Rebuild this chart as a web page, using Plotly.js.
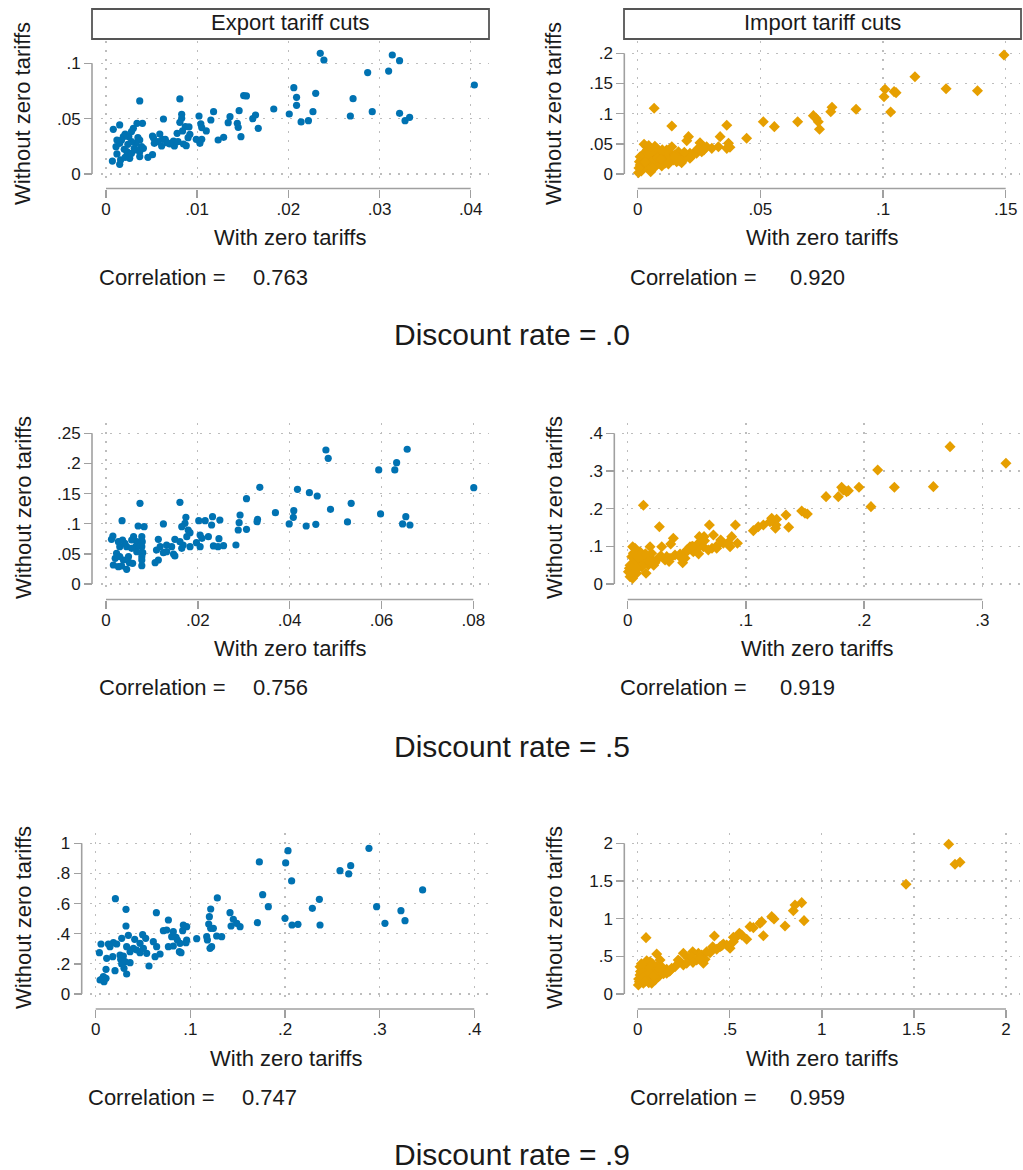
<!DOCTYPE html>
<html>
<head>
<meta charset="utf-8">
<script src="https://cdn.plot.ly/plotly-3.0.1.min.js"></script>
<style>
  html, body { margin: 0; padding: 0; background: #ffffff; }
  #chart { width: 1023px; height: 1170px; }
</style>
</head>
<body>
<div id="chart"></div>
<script>
// ---- Series: welfare effects with vs. without zero tariffs ----
// Export tariff cuts, discount rate .0
const exportR0X = [0.0235,0.0239,0.0287,0.0310,0.0314,0.0322,0.0404,0.0271,0.0230,0.0206,
  0.0209,0.0209,0.0227,0.0201,0.0268,0.0292,0.0322,0.0328,0.0333,0.0214,
  0.0222,0.0184,0.0151,0.0154,0.0146,0.0136,0.0134,0.0144,0.0145,0.0148,
  0.0118,0.0115,0.0110,0.0104,0.0105,0.0102,0.0129,0.0123,0.0161,0.0164,
  0.0167,0.0081,0.0083,0.0083,0.0081,0.0087,0.0091,0.0084,0.0078,0.0092,
  0.0090,0.0085,0.0088,0.0099,0.0103,0.0105,0.0074,0.0075,0.0070,0.0063,
  0.0059,0.0062,0.0057,0.0061,0.0052,0.0051,0.0053,0.0051,0.0046,0.0037,
  0.0040,0.0034,0.0030,0.0028,0.0035,0.0037,0.0033,0.0039,0.0037,0.0037,
  0.0031,0.0028,0.0025,0.0024,0.0026,0.0021,0.0019,0.0017,0.0015,0.0015,
  0.0012,0.0011,0.0008,0.0007,0.0012,0.0016,0.0015,0.0021,0.0020,0.0023,
  0.0028,0.0034,0.0041,0.0065,0.0067,0.0079];
const exportR0Y = [0.109,0.103,0.0916,0.093,0.1075,0.1024,0.0804,0.068,0.0729,0.078,
  0.0693,0.062,0.0563,0.0542,0.0524,0.0563,0.0548,0.0482,0.0512,0.047,
  0.0482,0.0587,0.0708,0.0705,0.0572,0.0518,0.0464,0.0458,0.0422,0.0337,
  0.0563,0.0488,0.0389,0.0452,0.0419,0.0524,0.0331,0.0307,0.05,0.0533,
  0.0413,0.0678,0.0539,0.0503,0.0467,0.0428,0.0425,0.0389,0.0367,0.0358,
  0.0328,0.0271,0.0256,0.0313,0.0277,0.0313,0.0298,0.0253,0.0271,0.0497,
  0.0361,0.0313,0.0292,0.0253,0.0328,0.0343,0.0277,0.0175,0.0151,0.066,
  0.0458,0.0458,0.0413,0.0383,0.0328,0.0307,0.0277,0.0247,0.0202,0.0157,
  0.0232,0.0292,0.0337,0.0268,0.0142,0.0361,0.0337,0.0307,0.0277,0.0443,
  0.0307,0.0247,0.0404,0.0117,0.0181,0.0127,0.0087,0.0151,0.0223,0.0202,
  0.0187,0.0217,0.0232,0.0313,0.0283,0.0292];

// Import tariff cuts, discount rate .0
const importR0X = [0.1493,0.113,0.1257,0.1385,0.1008,0.1004,0.1045,0.1053,0.1031,0.089,
  0.0792,0.0787,0.0716,0.0727,0.0736,0.0741,0.0652,0.0557,0.0512,0.0444,
  0.0363,0.0067,0.0139,0.0207,0.0200,0.0336,0.0329,0.0370,0.0376,0.0363,
  0.0254,0.0268,0.0247,0.0227,0.0200,0.0173,0.0166,0.0139,0.0132,0.0118,
  0.0145,0.0105,0.0091,0.0084,0.0064,0.0057,0.0050,0.0026,0.0037,0.0077,
  0.0043,0.0023,0.0016,0.0010,0.0003,0.0020,0.0037,0.0053,0.0071,0.0111,
  0.0179,0.0213,0.0240,0.0281,0.0037,0.0050,0.0071,0.0118,0.0152,0.0186,
  0.0213,0.0261,0.0302,0.0010,0.0007,0.0023,0.0057,0.0098,0.0125,0.0159,
  0.0015,0.0030,0.0060,0.0080,0.0100,0.0040,0.0150,0.0190,0.0220,0.0170,
  0.0120,0.0005,0.0045,0.0070,0.0270,0.0095];
const importR0Y = [0.1972,0.161,0.1414,0.138,0.1403,0.128,0.1365,0.1348,0.1028,0.1072,
  0.1105,0.1033,0.0967,0.0923,0.0867,0.074,0.0867,0.0785,0.0867,0.0591,
  0.0807,0.1088,0.0796,0.0619,0.0552,0.0619,0.0453,0.0508,0.0442,0.0425,
  0.0519,0.0453,0.0425,0.0343,0.0287,0.0315,0.037,0.0453,0.0354,0.0287,
  0.0232,0.0232,0.0343,0.0177,0.0287,0.037,0.0425,0.0492,0.0453,0.0425,
  0.026,0.0331,0.0243,0.0149,0.0022,0.0094,0.0122,0.0039,0.0122,0.0177,
  0.0188,0.026,0.0343,0.0453,0.0315,0.0354,0.0387,0.0398,0.0315,0.0243,
  0.0343,0.037,0.0425,0.0287,0.0204,0.0177,0.0204,0.0133,0.0166,0.0204,
  0.005,0.02,0.01,0.027,0.04,0.04,0.027,0.036,0.03,0.022,
  0.02,0.01,0.047,0.046,0.04,0.025];

// Export tariff cuts, discount rate .5
const exportR5X = [0.0479,0.0484,0.0656,0.0633,0.0629,0.0594,0.0801,0.0335,0.0417,0.0443,
  0.0460,0.0306,0.0161,0.0074,0.0534,0.0489,0.0369,0.0409,0.0408,0.0598,
  0.0653,0.0646,0.0662,0.0526,0.0457,0.0436,0.0399,0.0330,0.0329,0.0292,
  0.0290,0.0288,0.0306,0.0283,0.0248,0.0232,0.0230,0.0216,0.0202,0.0174,
  0.0172,0.0165,0.0179,0.0183,0.0176,0.0205,0.0209,0.0223,0.0246,0.0234,
  0.0244,0.0256,0.0197,0.0205,0.0183,0.0168,0.0165,0.0161,0.0150,0.0143,
  0.0132,0.0125,0.0114,0.0118,0.0110,0.0125,0.0132,0.0147,0.0150,0.0114,
  0.0107,0.0083,0.0070,0.0078,0.0079,0.0078,0.0080,0.0078,0.0078,0.0078,
  0.0067,0.0060,0.0056,0.0065,0.0067,0.0056,0.0058,0.0051,0.0045,0.0041,
  0.0036,0.0035,0.0030,0.0027,0.0023,0.0020,0.0016,0.0015,0.0012,0.0027,
  0.0034,0.0045,0.0038,0.0049,0.0030];
const exportR5Y = [0.2223,0.2085,0.2235,0.2013,0.1892,0.1892,0.1598,0.1604,0.1571,0.1515,
  0.146,0.1416,0.1355,0.1338,0.1338,0.1239,0.1184,0.1217,0.1106,0.1162,
  0.1117,0.0996,0.0979,0.1029,0.099,0.0962,0.0996,0.1073,0.1034,0.1145,
  0.1018,0.0896,0.0907,0.0647,0.1062,0.1117,0.0979,0.1051,0.1051,0.1106,
  0.1007,0.0951,0.0896,0.0852,0.0785,0.0813,0.0758,0.0785,0.0752,0.0631,
  0.0619,0.0636,0.0686,0.0619,0.0619,0.0647,0.0592,0.0702,0.0741,0.0619,
  0.0647,0.0996,0.0741,0.0619,0.0564,0.052,0.0536,0.0498,0.0465,0.0398,
  0.0354,0.0951,0.0962,0.0785,0.0702,0.0619,0.052,0.0454,0.0398,0.0304,
  0.0702,0.0785,0.073,0.0619,0.0536,0.0592,0.0343,0.0354,0.0619,0.0675,
  0.073,0.1051,0.0619,0.0702,0.0509,0.0426,0.0315,0.0796,0.0741,0.0288,
  0.0299,0.0243,0.0398,0.0454,0.0454];

// Import tariff cuts, discount rate .5
const importR5X = [0.2727,0.3200,0.2115,0.2586,0.2256,0.1957,0.1810,0.1824,0.1852,0.1867,
  0.1782,0.1678,0.2058,0.1472,0.1500,0.1520,0.1339,0.1362,0.1255,0.1250,
  0.1218,0.1260,0.1204,0.1148,0.1105,0.1063,0.0133,0.0268,0.0691,0.0911,
  0.0880,0.0928,0.0866,0.0809,0.0787,0.0725,0.0646,0.0606,0.0598,0.0640,
  0.0713,0.0682,0.0584,0.0555,0.0527,0.0499,0.0465,0.0485,0.0386,0.0364,
  0.0400,0.0358,0.0316,0.0288,0.0259,0.0217,0.0189,0.0175,0.0133,0.0155,
  0.0104,0.0042,0.0062,0.0034,0.0048,0.0014,0.0020,0.0042,0.0076,0.0006,
  0.0082,0.0118,0.0203,0.0330,0.0443,0.0753,0.0541,0.0048,0.0175,0.0231,
  0.0030,0.0060,0.0090,0.0120,0.0150,0.0220,0.0280,0.0350,0.0450,0.0500,
  0.0600,0.0650,0.0750,0.0850,0.0020,0.0080,0.0180,0.0550];
const importR5Y = [0.3646,0.3204,0.3027,0.2584,0.2566,0.2566,0.2566,0.2496,0.2451,0.2478,
  0.2319,0.2319,0.2053,0.1938,0.1876,0.1858,0.1832,0.1504,0.1566,0.1478,
  0.1743,0.1717,0.1655,0.1566,0.1522,0.1416,0.2088,0.1522,0.1566,0.1566,
  0.1257,0.108,0.0991,0.108,0.1168,0.1301,0.1257,0.1257,0.108,0.0991,
  0.0947,0.0903,0.092,0.0858,0.0991,0.0858,0.0566,0.0681,0.1212,0.1062,
  0.077,0.0681,0.0637,0.0991,0.0681,0.0619,0.0991,0.0504,0.0726,0.0283,
  0.0858,0.0991,0.0947,0.0726,0.0549,0.0416,0.0195,0.015,0.0283,0.0327,
  0.0637,0.0549,0.0814,0.0726,0.0796,0.0947,0.0991,0.0814,0.0681,0.0566,
  0.03,0.06,0.07,0.045,0.08,0.05,0.075,0.06,0.07,0.09,
  0.08,0.115,0.1,0.11,0.05,0.04,0.06,0.1];

// Export tariff cuts, discount rate .9
const exportR9X = [0.2887,0.2032,0.1729,0.2007,0.2694,0.2581,0.2673,0.2070,0.3454,0.1764,
  0.2363,0.1285,0.0208,0.1824,0.2968,0.2289,0.3225,0.3268,0.3056,0.2370,
  0.2074,0.2137,0.2000,0.1708,0.0320,0.0641,0.1215,0.1201,0.1419,0.1454,
  0.1490,0.1525,0.1430,0.0768,0.0926,0.0961,0.0919,0.1067,0.1173,0.1194,
  0.1215,0.1243,0.1278,0.1331,0.1180,0.1225,0.1208,0.0320,0.0345,0.0412,
  0.0496,0.0528,0.0609,0.0644,0.0715,0.0750,0.0820,0.0803,0.0849,0.0863,
  0.0768,0.0820,0.0891,0.0961,0.0954,0.0884,0.0901,0.0680,0.0627,0.0563,
  0.0539,0.0504,0.0468,0.0398,0.0363,0.0327,0.0275,0.0222,0.0187,0.0151,
  0.0134,0.0056,0.0039,0.0116,0.0180,0.0204,0.0109,0.0257,0.0264,0.0292,
  0.0310,0.0327,0.0363,0.0299,0.0275,0.0063,0.0088,0.0081,0.0109,0.0046,
  0.0433,0.0468];
const exportR9Y = [0.9668,0.9513,0.8761,0.8695,0.8518,0.8186,0.7965,0.75,0.6903,0.6593,
  0.6283,0.6372,0.6327,0.5796,0.5796,0.5686,0.5531,0.4867,0.469,0.458,
  0.458,0.4624,0.5022,0.4735,0.5619,0.5398,0.5642,0.5133,0.5398,0.4956,
  0.469,0.4469,0.4513,0.4912,0.458,0.4469,0.4204,0.3673,0.3805,0.4646,
  0.4358,0.4358,0.385,0.3805,0.3584,0.3142,0.3031,0.4513,0.3894,0.3628,
  0.3938,0.3695,0.3473,0.3142,0.4204,0.4248,0.4137,0.3805,0.3761,0.3584,
  0.3142,0.3186,0.3363,0.3584,0.3407,0.281,0.2743,0.2655,0.2478,0.1858,
  0.2699,0.3031,0.2743,0.3031,0.281,0.3142,0.3695,0.3319,0.3407,0.3142,
  0.3319,0.3319,0.2743,0.2367,0.2478,0.1549,0.1637,0.2588,0.2301,0.2522,
  0.2146,0.1327,0.208,0.1704,0.1991,0.0973,0.0819,0.115,0.104,0.0929,
  0.292,0.3363];

// Import tariff cuts, discount rate .9
const importR9X = [1.6887,1.7231,1.7502,1.4570,0.8905,0.8543,0.8452,0.9032,0.8000,0.7276,
  0.7403,0.6824,0.6643,0.6733,0.6281,0.6100,0.5919,0.5520,0.5285,0.5195,
  0.5014,0.4652,0.4471,0.4163,0.4072,0.4290,0.3928,0.3656,0.3475,0.3294,
  0.3566,0.3204,0.2986,0.2751,0.2480,0.2480,0.2299,0.2027,0.1756,0.1575,
  0.1394,0.1213,0.1032,0.1213,0.1303,0.0851,0.0670,0.0489,0.0452,0.0308,
  0.0127,0.0217,0.0090,0.0036,0.0308,0.0579,0.0760,0.0941,0.1122,0.1575,
  0.1846,0.0489,0.0814,0.1032,0.0217,0.0398,0.0670,0.0127,0.2661,0.2932,
  0.3747,0.4833,0.5195,0.5647,0.4561,
  0.005,0.015,0.030,0.060,0.090,0.110,0.140,0.170,0.020,0.080,
  0.120,0.060,0.040,0.220,0.300,0.340];
const importR9Y = [1.9867,1.7212,1.7478,1.4558,1.2124,1.1814,1.1062,0.9735,0.9027,1.0265,
  0.9956,0.7743,0.938,0.9602,0.8805,0.8938,0.7257,0.8053,0.7389,0.7522,
  0.6062,0.6637,0.6283,0.7699,0.6283,0.5929,0.5487,0.4602,0.5177,0.5398,
  0.4071,0.4513,0.5619,0.4735,0.5398,0.385,0.4292,0.3628,0.3097,0.3274,
  0.3186,0.2522,0.531,0.4513,0.3628,0.3628,0.4292,0.4425,0.7478,0.385,
  0.3628,0.2743,0.1637,0.1195,0.1416,0.1947,0.1416,0.1858,0.2301,0.2743,
  0.3407,0.2522,0.2743,0.3628,0.208,0.3186,0.3407,0.2522,0.4071,0.4956,
  0.5619,0.6504,0.6947,0.7832,0.6416,
  0.2,0.3,0.22,0.28,0.24,0.31,0.27,0.3,0.4,0.4,
  0.34,0.15,0.17,0.45,0.42,0.47];

// ---- Axis ticks and labels ----
const xTicks = [[0,0.01,0.02,0.03,0.04],[0,0.05,0.1,0.15],[0,0.02,0.04,0.06,0.08],[0,0.1,0.2,0.3],[0,0.1,0.2,0.3,0.4],[0,0.5,1,1.5,2]];
const xTickText = [['0','.01','.02','.03','.04'],['0','.05','.1','.15'],['0','.02','.04','.06','.08'],['0','.1','.2','.3'],['0','.1','.2','.3','.4'],['0','.5','1','1.5','2']];
const yTicks = [[0,0.05,0.1],[0,0.05,0.1,0.15,0.2],[0,0.05,0.1,0.15,0.2,0.25],[0,0.1,0.2,0.3,0.4],[0,0.2,0.4,0.6,0.8,1],[0,0.5,1,1.5,2]];
const yTickText = [['0','.05','.1'],['0','.05','.1','.15','.2'],['0','.05','.1','.15','.2','.25'],['0','.1','.2','.3','.4'],['0','.2','.4','.6','.8','1'],['0','.5','1','1.5','2']];

// ---- Text ----
const stripTitles = ['Export tariff cuts', 'Import tariff cuts'];
const rateTitles = ['Discount rate = .0', 'Discount rate = .5', 'Discount rate = .9'];
const correlations = ['0.763', '0.920', '0.756', '0.919', '0.747', '0.959'];
const xTitle = 'With zero tariffs';
const yTitle = 'Without zero tariffs';

// ---- Page geometry (pixels) ----
const W = 1023, H = 1170;
const PX = v => v / W;
const PY = v => 1 - v / H;

// plot-area box, pixel position of first/last tick, free axis-line positions, text anchors
const geom = [
  {l:101, r:489,  t:41,  b:180,  tx:[106, 470.7],   ty:[174, 63.3],  yLine:92,    xLine:188.5, ytX:23,  ytY:114, xtX:290, xtY:238,  cX:96.7,  cNX:250.7, cY:277},
  {l:632, r:1020, t:41,  b:180,  tx:[637.7, 1005.7],ty:[174, 53.3],  yLine:624.3, xLine:188.5, ytX:554, ytY:114, xtX:822, xtY:238,  cX:628.3, cNX:788.3, cY:277},
  {l:101, r:489,  t:423, b:591,  tx:[106, 473.3],   ty:[584, 433.3], yLine:92,    xLine:599.5, ytX:23,  ytY:508, xtX:290, xtY:648,  cX:96.7,  cNX:250.7, cY:687},
  {l:622, r:1020, t:423, b:591,  tx:[627.7, 982.3], ty:[584, 433.3], yLine:614.3, xLine:599.5, ytX:554, ytY:508, xtX:817, xtY:648,  cX:618.3, cNX:778.3, cY:687},
  {l:90,  r:489,  t:833, b:1000, tx:[95.7, 474.3],  ty:[994, 843.3], yLine:81.7,  xLine:1009,  ytX:23,  ytY:918, xtX:286, xtY:1058, cX:86,    cNX:240,   cY:1097},
  {l:632, r:1020, t:833, b:1000, tx:[637.7, 1006],  ty:[994, 843.3], yLine:624.3, xLine:1009,  ytX:554, ytY:918, xtX:822, xtY:1058, cX:628.3, cNX:788.3, cY:1097}
];
const stripBoxes = [{l:92, r:489, t:9, b:39}, {l:624, r:1021, t:9, b:39}];
const rateTitleY = [334, 746, 1154];

const series = [
  [exportR0X, exportR0Y], [importR0X, importR0Y],
  [exportR5X, exportR5Y], [importR5X, importR5Y],
  [exportR9X, exportR9Y], [importR9X, importR9Y]
];

const FONT = 'Liberation Sans, Arial, Helvetica, sans-serif';
const INK = '#1a1a1a';
const AXIS_GREY = '#a0a0a0';
const BLUE = '#0072B2';
const ORANGE = '#E69F00';

// value range that puts the end ticks at the given pixel positions
function rangeFor(vals, p0, p1, d0, d1) {
  const v0 = vals[0], v1 = vals[vals.length - 1];
  const s = (v1 - v0) / (p1 - p0);
  return [v0 + (d0 - p0) * s, v1 + (d1 - p1) * s];
}

const traces = [];
const layout = {
  width: W, height: H,
  margin: {l: 0, r: 0, t: 0, b: 0},
  paper_bgcolor: '#ffffff',
  plot_bgcolor: '#ffffff',
  showlegend: false,
  font: {family: FONT, color: INK},
  shapes: [],
  annotations: []
};

geom.forEach((g, i) => {
  const n = i + 1;
  const xa = 'x' + (n === 1 ? '' : n), ya = 'y' + (n === 1 ? '' : n);
  const xKey = 'xaxis' + (n === 1 ? '' : n), yKey = 'yaxis' + (n === 1 ? '' : n);
  const isImport = (i % 2 === 1);

  traces.push({
    type: 'scatter', mode: 'markers',
    x: series[i][0], y: series[i][1],
    xaxis: xa, yaxis: ya,
    marker: isImport
      ? {symbol: 'diamond', size: 8.5, color: ORANGE, line: {width: 0}}
      : {symbol: 'circle', size: 7.2, color: BLUE, line: {width: 0}},
    hoverinfo: 'skip'
  });

  const common = {
    showline: false, zeroline: false,
    showgrid: true, gridcolor: '#bdbdbd', gridwidth: 1.2, griddash: '1.5px,7.5px',
    ticks: 'outside', ticklen: 8, tickwidth: 1.4, tickcolor: AXIS_GREY,
    tickfont: {family: FONT, size: 17, color: INK},
    tickmode: 'array', fixedrange: true, anchor: 'free'
  };

  layout[xKey] = Object.assign({}, common, {
    domain: [PX(g.l), PX(g.r)],
    range: rangeFor(xTicks[i], g.tx[0], g.tx[1], g.l, g.r),
    position: PY(g.xLine),
    ticklabelstandoff: -3,
    tickvals: xTicks[i], ticktext: xTickText[i]
  });
  layout[yKey] = Object.assign({}, common, {
    domain: [PY(g.b), PY(g.t)],
    range: rangeFor(yTicks[i], -g.ty[0], -g.ty[1], -g.b, -g.t),
    position: PX(g.yLine),
    tickvals: yTicks[i], ticktext: yTickText[i]
  });

  // axis lines span only the labelled tick range
  const xt = xTicks[i], yt = yTicks[i];
  layout.shapes.push({
    type: 'line', xref: xa, yref: 'paper',
    x0: xt[0], x1: xt[xt.length - 1], y0: PY(g.xLine), y1: PY(g.xLine),
    line: {color: AXIS_GREY, width: 1.6}
  });
  layout.shapes.push({
    type: 'line', xref: 'paper', yref: ya,
    x0: PX(g.yLine), x1: PX(g.yLine), y0: yt[0], y1: yt[yt.length - 1],
    line: {color: AXIS_GREY, width: 1.6}
  });

  // axis titles
  layout.annotations.push({
    xref: 'paper', yref: 'paper', x: PX(g.ytX), y: PY(g.ytY),
    text: yTitle, textangle: -90, showarrow: false,
    xanchor: 'center', yanchor: 'middle',
    font: {family: FONT, size: 22, color: INK}
  });
  layout.annotations.push({
    xref: 'paper', yref: 'paper', x: PX(g.xtX), y: PY(g.xtY),
    text: xTitle, showarrow: false, xanchor: 'center', yanchor: 'middle',
    font: {family: FONT, size: 22, color: INK}
  });

  // correlation note
  layout.annotations.push({
    xref: 'paper', yref: 'paper', x: PX(g.cX), y: PY(g.cY),
    text: 'Correlation =', showarrow: false, xanchor: 'left', yanchor: 'middle',
    font: {family: FONT, size: 22, color: INK}
  });
  layout.annotations.push({
    xref: 'paper', yref: 'paper', x: PX(g.cNX), y: PY(g.cY),
    text: correlations[i], showarrow: false, xanchor: 'left', yanchor: 'middle',
    font: {family: FONT, size: 22, color: INK}
  });
});

// column headers
stripBoxes.forEach((s, k) => {
  layout.shapes.push({
    type: 'rect', xref: 'paper', yref: 'paper',
    x0: PX(s.l), x1: PX(s.r), y0: PY(s.b), y1: PY(s.t),
    line: {color: '#555555', width: 1.8}, fillcolor: '#ffffff'
  });
  layout.annotations.push({
    xref: 'paper', yref: 'paper', x: PX((s.l + s.r) / 2), y: PY((s.t + s.b) / 2 - 1.5),
    text: stripTitles[k], showarrow: false, xanchor: 'center', yanchor: 'middle',
    font: {family: FONT, size: 22, color: INK}
  });
});

// row captions
rateTitles.forEach((t, k) => {
  layout.annotations.push({
    xref: 'paper', yref: 'paper', x: PX(512), y: PY(rateTitleY[k]),
    text: t, showarrow: false, xanchor: 'center', yanchor: 'middle',
    font: {family: FONT, size: 30, color: INK}
  });
});

Plotly.newPlot('chart', traces, layout, {displayModeBar: false, staticPlot: true});
</script>
</body>
</html>
